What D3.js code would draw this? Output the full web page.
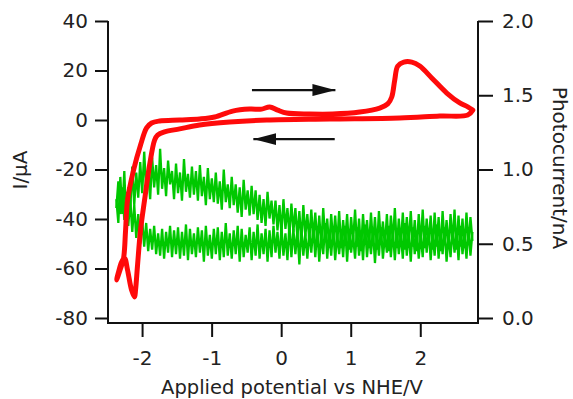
<!DOCTYPE html>
<html>
<head>
<meta charset="utf-8">
<script src="https://cdn.jsdelivr.net/npm/d3@7"></script>
<style>
  body { margin: 0; background: #fff; }
  text { font-family: "DejaVu Sans", sans-serif; fill: #222; }
</style>
</head>
<body>
<svg id="chart" width="573" height="399"></svg>
<script>
// cyclic voltammogram (left axis, uA)
var cvPotential = [2.755, 2.683, 2.281, 1.705, 0.698, -0.209, -0.741, -1.173, -1.460, -1.676, -1.777, -1.820,
  -1.892, -1.964, -2.022, -2.065, -2.094, -2.108, -2.151, -2.209, -2.252, -2.295, -2.338, -2.367, -2.310,
  -2.266, -2.237, -2.209, -2.122, -2.022, -1.935, -1.863, -1.748, -1.460, -1.173, -0.957, -0.698, -0.453,
  -0.281, -0.165, -0.050, 0.079, 0.410, 0.741, 1.129, 1.417, 1.532, 1.590, 1.633, 1.676, 1.763, 1.878,
  1.993, 2.165, 2.381, 2.568, 2.683, 2.755];
var cvCurrent = [4.0, 2.0, 1.6, 0.8, 0.4, 0, -0.8, -2.0, -3.6, -4.8, -6.1, -8.1,
  -18.2, -32.3, -44.4, -58.6, -68.7, -71.5, -68.7, -60.6, -55.8, -57.4, -61.4, -64.6, -60.0,
  -55.8, -44.4, -32.3, -20.2, -10.1, -3.2, -1.2, -0.4, 0, 0.4, 1.2, 3.6, 4.4,
  4.4, 5.3, 4.0, 2.8, 2.4, 2.4, 3.2, 4.8, 6.5, 9.3, 16.2, 21.8, 23.4, 23.4,
  21.8, 17.0, 10.9, 6.9, 5.3, 4.0];

// photocurrent (right axis, nA), sweep start/end potentials
var sweepStart = -2.37, sweepEnd = 2.75;
var photoForward = [
  0.80, 0.64, 0.95, 0.70, 0.99, 0.62, 0.88, 0.73, 1.02, 0.76,
  0.98, 0.81, 1.05, 0.84, 1.12, 0.86, 0.99, 0.80, 1.08, 0.88,
  1.03, 0.83, 1.14, 0.87, 1.01, 0.82, 1.06, 0.90, 0.99, 0.80,
  1.04, 0.84, 0.98, 0.79, 1.07, 0.85, 0.97, 0.81, 1.02, 0.83,
  0.99, 0.79, 1.03, 0.82, 0.95, 0.76, 1.01, 0.80, 0.94, 0.78,
  0.98, 0.77, 0.92, 0.73, 1.00, 0.78, 0.90, 0.74, 0.95, 0.76,
  0.90, 0.71, 0.88, 0.68, 0.93, 0.73, 0.86, 0.69, 0.89, 0.70,
  0.86, 0.66, 0.83, 0.64, 0.80, 0.62, 0.85, 0.67, 0.79, 0.63,
  0.79, 0.59, 0.76, 0.57, 0.80, 0.60, 0.74, 0.56, 0.77, 0.58,
  0.74, 0.54, 0.72, 0.51, 0.76, 0.55, 0.70, 0.52, 0.73, 0.53,
  0.71, 0.50, 0.69, 0.48, 0.74, 0.52, 0.67, 0.47, 0.70, 0.51,
  0.69, 0.49, 0.72, 0.47, 0.66, 0.50, 0.70, 0.46, 0.68, 0.51,
  0.73, 0.48, 0.67, 0.45, 0.70, 0.50, 0.66, 0.47, 0.71, 0.49,
  0.68, 0.46, 0.72, 0.50, 0.65, 0.48, 0.70, 0.45, 0.69, 0.51,
  0.74, 0.47, 0.67, 0.49, 0.71, 0.46, 0.68, 0.50, 0.72, 0.48,
  0.66, 0.45, 0.70, 0.49, 0.73, 0.47, 0.67, 0.50, 0.69, 0.46,
  0.71, 0.48, 0.68, 0.45, 0.72, 0.49, 0.66, 0.47, 0.70, 0.50,
  0.73, 0.46, 0.69, 0.48, 0.67, 0.47, 0.71, 0.49, 0.68, 0.52];
var photoReverse = [
  0.58, 0.42, 0.61, 0.40, 0.57, 0.43, 0.62, 0.39, 0.59, 0.44,
  0.60, 0.41, 0.56, 0.38, 0.61, 0.43, 0.58, 0.40, 0.63, 0.42,
  0.57, 0.39, 0.60, 0.44, 0.62, 0.41, 0.56, 0.40, 0.59, 0.43,
  0.61, 0.38, 0.58, 0.42, 0.64, 0.40, 0.57, 0.43, 0.60, 0.39,
  0.59, 0.41, 0.62, 0.44, 0.56, 0.40, 0.61, 0.42, 0.58, 0.37,
  0.60, 0.43, 0.57, 0.41, 0.63, 0.39, 0.59, 0.42, 0.61, 0.40,
  0.56, 0.44, 0.60, 0.38, 0.62, 0.41, 0.58, 0.43, 0.57, 0.39,
  0.61, 0.42, 0.59, 0.40, 0.64, 0.43, 0.56, 0.38, 0.60, 0.41,
  0.62, 0.44, 0.58, 0.40, 0.57, 0.42, 0.61, 0.36, 0.59, 0.43,
  0.60, 0.41, 0.63, 0.39, 0.57, 0.42, 0.61, 0.40, 0.58, 0.44,
  0.62, 0.41, 0.59, 0.38, 0.60, 0.43, 0.57, 0.40, 0.63, 0.42,
  0.58, 0.39, 0.61, 0.44, 0.56, 0.41, 0.60, 0.38, 0.62, 0.43,
  0.59, 0.40, 0.57, 0.42, 0.64, 0.41, 0.58, 0.39, 0.61, 0.43,
  0.60, 0.40, 0.56, 0.42, 0.62, 0.38, 0.59, 0.44, 0.61, 0.41,
  0.57, 0.43, 0.60, 0.39, 0.63, 0.42, 0.58, 0.40, 0.61, 0.43,
  0.59, 0.41, 0.62, 0.44, 0.58, 0.40, 0.60, 0.42, 0.57, 0.43,
  0.62, 0.46, 0.60, 0.45, 0.64, 0.48, 0.66, 0.50, 0.70, 0.54,
  0.76, 0.58, 0.80, 0.62, 0.85, 0.66, 0.88, 0.70, 0.92, 0.74];

var xTicks = [-2, -1, 0, 1, 2];
var leftTicks = [-80, -60, -40, -20, 0, 20, 40];
var rightTicks = [0.0, 0.5, 1.0, 1.5, 2.0];

// scan direction arrows: [from V, to V, at uA]
var arrowOut = [-0.42, 0.78, 12.1];
var arrowBack = [0.77, -0.40, -7.7];

var svg = d3.select("#chart");
var plotLeft = 108, plotRight = 478, plotTop = 21, axisY = 323;

var x = d3.scaleLinear().domain([-2.49, 2.83]).range([plotLeft, plotRight]);
var y = d3.scaleLinear().domain([-80, 40]).range([318, plotTop]);
var y2 = d3.scaleLinear().domain([0, 2]).range([318, plotTop]);

// green photocurrent traces
function sweep(vals, v0, v1) {
  var idx = d3.scaleLinear().domain([0, vals.length - 1]).range([v0, v1]);
  return vals.map(function (d, i) { return [idx(i), d]; });
}
var photoLine = d3.line()
  .x(function (d) { return x(d[0]); })
  .y(function (d) { return y2(d[1]); });

svg.append("path")
  .datum(sweep(photoReverse, sweepEnd, sweepStart))
  .attr("d", photoLine)
  .attr("fill", "none")
  .attr("stroke", "#00c800")
  .attr("stroke-width", 2.3)
  .attr("stroke-linejoin", "bevel");
svg.append("path")
  .datum(sweep(photoForward, sweepStart, sweepEnd))
  .attr("d", photoLine)
  .attr("fill", "none")
  .attr("stroke", "#00c800")
  .attr("stroke-width", 2.3)
  .attr("stroke-linejoin", "bevel");

// red CV loop
var cvLine = d3.line()
  .x(function (d, i) { return x(cvPotential[i]); })
  .y(function (d, i) { return y(cvCurrent[i]); })
  .curve(d3.curveCatmullRom.alpha(0.5));

svg.append("path")
  .datum(cvPotential)
  .attr("d", cvLine)
  .attr("fill", "none")
  .attr("stroke", "#ff0a0a")
  .attr("stroke-width", 5)
  .attr("stroke-linejoin", "round")
  .attr("stroke-linecap", "round");

// arrows
svg.append("defs").append("marker")
  .attr("id", "head")
  .attr("viewBox", "0 0 23 12")
  .attr("refX", 23).attr("refY", 6)
  .attr("markerUnits", "userSpaceOnUse")
  .attr("markerWidth", 23).attr("markerHeight", 12)
  .attr("orient", "auto")
  .append("path")
  .attr("d", "M0,0 L23,6 L0,12 Z")
  .attr("fill", "#111");

[arrowOut, arrowBack].forEach(function (a) {
  svg.append("line")
    .attr("x1", x(a[0])).attr("x2", x(a[1]))
    .attr("y1", y(a[2])).attr("y2", y(a[2]))
    .attr("stroke", "#111")
    .attr("stroke-width", 2.2)
    .attr("marker-end", "url(#head)");
});

// axes
var leftAxis = svg.append("g")
  .attr("transform", "translate(" + plotLeft + ",0)")
  .call(d3.axisLeft(y).tickValues(leftTicks).tickSize(13).tickPadding(7)
    .tickFormat(function (d) { return d; }));
var rightAxis = svg.append("g")
  .attr("transform", "translate(" + plotRight + ",0)")
  .call(d3.axisRight(y2).tickValues(rightTicks).tickSize(15).tickPadding(9)
    .tickFormat(d3.format(".1f")));
var bottomAxis = svg.append("g")
  .attr("transform", "translate(0," + axisY + ")")
  .call(d3.axisBottom(x).tickValues(xTicks).tickSize(14).tickPadding(14)
    .tickFormat(function (d) { return d; }));

[leftAxis, rightAxis, bottomAxis].forEach(function (g) {
  g.select(".domain").remove();
  g.selectAll(".tick line").attr("stroke", "#111").attr("stroke-width", 2);
  g.selectAll(".tick text").attr("font-size", 20).attr("font-family", "DejaVu Sans").attr("fill", "#222");
});

svg.append("path")
  .attr("d", "M" + plotLeft + "," + plotTop + "V" + axisY + "H" + plotRight + "V" + plotTop)
  .attr("fill", "none")
  .attr("stroke", "#111")
  .attr("stroke-width", 2);

// axis titles
svg.append("text")
  .attr("transform", "translate(27,170) rotate(-90)")
  .attr("text-anchor", "middle")
  .attr("font-size", 20)
  .text("I/\u00b5A");
svg.append("text")
  .attr("transform", "translate(553,168) rotate(90)")
  .attr("text-anchor", "middle")
  .attr("font-size", 20)
  .text("Photocurrent/nA");
svg.append("text")
  .attr("x", 292)
  .attr("y", 394)
  .attr("text-anchor", "middle")
  .attr("font-size", 19.5)
  .text("Applied potential vs NHE/V");
</script>
</body>
</html>
